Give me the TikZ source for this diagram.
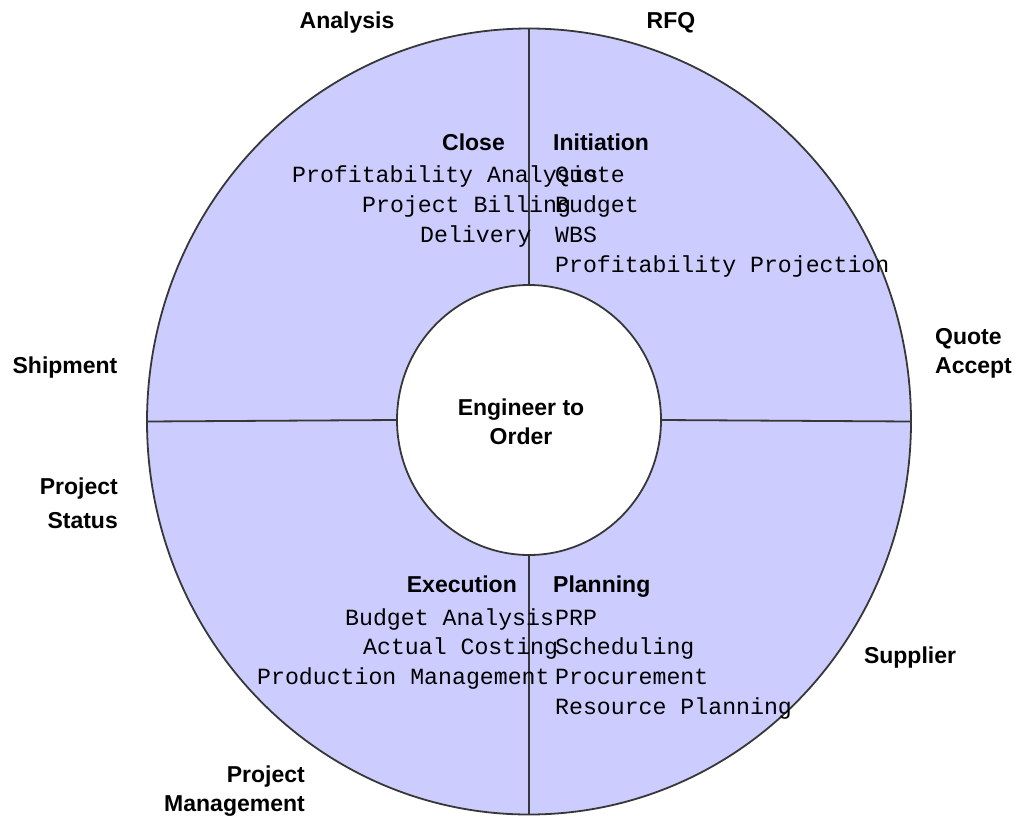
\documentclass[tikz,border=0pt]{standalone}
\usepackage{fontspec}
\setmainfont{Liberation Sans}
\setmonofont{Liberation Mono}
\usetikzlibrary{shapes.geometric, positioning}
\definecolor{ring}{RGB}{204, 204, 255}
\definecolor{edge}{RGB}{55, 55, 55}

\begin{document}
\begin{tikzpicture}[x=1pt, y=-1pt,
    phase/.style = {font=\fontsize{23}{29}\selectfont\bfseries, inner sep=0pt, text height=0.72em, text depth=0.2em},
    task/.style = {font=\fontsize{23.2}{29}\ttfamily, inner sep=0pt, anchor=west, text height=0.62em, text depth=0.18em},
    stage/.style = {font=\fontsize{23}{29}\selectfont\bfseries, inner sep=0pt},
    divider/.style = {edge, line width=1.8pt}]
    \useasboundingbox (0,0) rectangle (1016,819);

    \node[ellipse, draw=edge, line width=1.8pt, fill=ring, inner sep=0pt, minimum width=764pt, minimum height=786pt] (outer) at (529,421.5) {};
    \node[ellipse, draw=edge, line width=1.8pt, fill=white, inner sep=0pt, minimum width=264pt, minimum height=270pt] (inner) at (529,420) {};

    \draw[divider] (outer.north) -- (inner.north);
    \draw[divider] (inner.south) -- (outer.south);
    \draw[divider] (outer.west) -- (inner.west);
    \draw[divider] (inner.east) -- (outer.east);

    \node[stage, align=center] (eto) at (521,422) {Engineer to\\Order};

    % quadrant headers
    \node[phase, anchor=east] (close) at (505,148) {Close};
    \node[phase, anchor=west] (init) at (553,148) {Initiation};
    \node[phase, anchor=east] (exec) at (517,590) {Execution};
    \node[phase, anchor=west] (plan) at (553,590) {Planning};

    % close
    \node[task] (c1) at (292,180) {Profitability Analysis};
    \node[task] (c2) at (362,210) {Project Billing};
    \node[task] (c3) at (420,240) {Delivery};

    % initiation
    \node[task] (i1) at (555,180) {Quote};
    \node[task] (i2) at (555,210) {Budget};
    \node[task] (i3) at (555,240) {WBS};
    \node[task] (i4) at (555,270) {Profitability Projection};

    % execution
    \node[task] (e1) at (345,623) {Budget Analysis};
    \node[task] (e2) at (363,652) {Actual Costing};
    \node[task] (e3) at (257,682) {Production Management};

    % planning
    \node[task] (p1) at (555,623) {PRP};
    \node[task] (p2) at (555,652) {Scheduling};
    \node[task] (p3) at (555,682) {Procurement};
    \node[task] (p4) at (555,712) {Resource Planning};

    % outer stages
    \node[stage] (analysis) at (347,23) {Analysis};
    \node[stage] (rfq) at (671,23) {RFQ};
    \node[stage, align=left, anchor=west] (accept) at (935,353.5) {Quote\\Accept};
    \node[stage] (supplier) at (910,658) {Supplier};
    \node[stage, align=right, anchor=east] (pm) at (305,791.5) {Project\\Management};
    \node[stage, align=right, anchor=east] (status) at (118,503) {Project\\[5pt]Status};
    \node[stage] (shipment) at (65,368) {Shipment};
\end{tikzpicture}
\end{document}
